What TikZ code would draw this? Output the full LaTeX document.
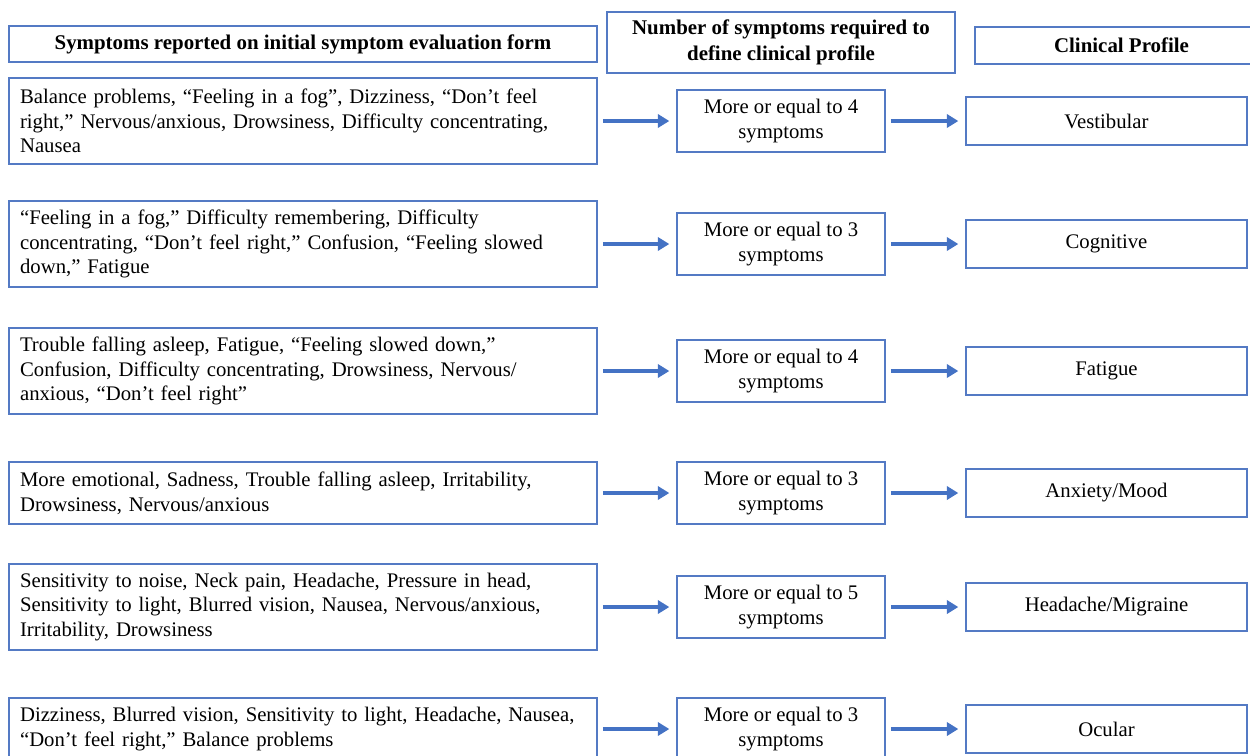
\documentclass[tikz,border=0pt]{standalone}
\usepackage{fontspec}
\setmainfont{Liberation Serif}
\usepackage{tikz}
\usetikzlibrary{positioning,arrows.meta}
\definecolor{boxblue}{RGB}{84,122,196}
\definecolor{arrowblue}{RGB}{68,114,196}

\begin{document}
\begin{tikzpicture}[x=0.02cm, y=-0.02cm,
    every node/.style={font=\fontsize{11.8}{14}\selectfont},
    box/.style={draw=boxblue, line width=0.8pt, inner ysep=0pt},
    symp/.style={box, align=left, text width=11.32cm, inner xsep=0.22cm},
    tall/.style={minimum height=1.72cm},
    short/.style={minimum height=1.24cm},
    count/.style={box, align=center, minimum width=4.16cm, minimum height=1.24cm},
    prof/.style={box, minimum width=5.62cm, minimum height=0.96cm},
    head/.style={box, align=center, font=\fontsize{11.9}{14.5}\selectfont\bfseries},
    flow/.style={draw=arrowblue, line width=2.2pt, -{Triangle[length=6.5pt,width=7.5pt]}, shorten <=3pt, shorten >=4pt}]
            \useasboundingbox (0,0) rectangle (1250,755);
            % column headings
            \node[head, minimum width=11.76cm, minimum height=0.72cm](h1) at (303,44){Symptoms reported on initial symptom evaluation form};
            \node[head, minimum width=6.96cm, minimum height=1.22cm](h2) at (781,42.5){Number of symptoms required to\\define clinical profile};
            \node[head, minimum width=5.86cm, minimum height=0.74cm](h3) at (1121.5,45.5){Clinical Profile};
            % symptom lists
            \node[symp, tall](s1) at (303,121){Balance problems, “Feeling in a fog”, Dizziness, “Don’t feel\\right,” Nervous/anxious, Drowsiness, Difficulty concentrating,\\Nausea};
            \node[symp, tall](s2) at (303,244){“Feeling in a fog,” Difficulty remembering, Difficulty\\concentrating, “Don’t feel right,” Confusion, “Feeling slowed\\down,” Fatigue};
            \node[symp, tall](s3) at (303,371){Trouble falling asleep, Fatigue, “Feeling slowed down,”\\Confusion, Difficulty concentrating, Drowsiness, Nervous/\\anxious, “Don’t feel right”};
            \node[symp, short](s4) at (303,493){More emotional, Sadness, Trouble falling asleep, Irritability,\\Drowsiness, Nervous/anxious};
            \node[symp, tall](s5) at (303,607){Sensitivity to noise, Neck pain, Headache, Pressure in head,\\Sensitivity to light, Blurred vision, Nausea, Nervous/anxious,\\Irritability, Drowsiness};
            \node[symp, short](s6) at (303,729){Dizziness, Blurred vision, Sensitivity to light, Headache, Nausea,\\“Don’t feel right,” Balance problems};
            % thresholds
            \node[count](n1) at (781,121){More or equal to 4\\symptoms};
            \node[count](n2) at (781,244){More or equal to 3\\symptoms};
            \node[count](n3) at (781,371){More or equal to 4\\symptoms};
            \node[count](n4) at (781,493){More or equal to 3\\symptoms};
            \node[count](n5) at (781,607){More or equal to 5\\symptoms};
            \node[count](n6) at (781,729){More or equal to 3\\symptoms};
            % profiles
            \node[prof](p1) at (1106.5,121){Vestibular};
            \node[prof](p2) at (1106.5,244){Cognitive};
            \node[prof](p3) at (1106.5,371){Fatigue};
            \node[prof](p4) at (1106.5,493){Anxiety/Mood};
            \node[prof](p5) at (1106.5,607){Headache/Migraine};
            \node[prof](p6) at (1106.5,729){Ocular};
            \path (s1) edge[flow] (n1);
            \path (n1) edge[flow] (p1);
            \path (s2) edge[flow] (n2);
            \path (n2) edge[flow] (p2);
            \path (s3) edge[flow] (n3);
            \path (n3) edge[flow] (p3);
            \path (s4) edge[flow] (n4);
            \path (n4) edge[flow] (p4);
            \path (s5) edge[flow] (n5);
            \path (n5) edge[flow] (p5);
            \path (s6) edge[flow] (n6);
            \path (n6) edge[flow] (p6);
\end{tikzpicture}
\end{document}
